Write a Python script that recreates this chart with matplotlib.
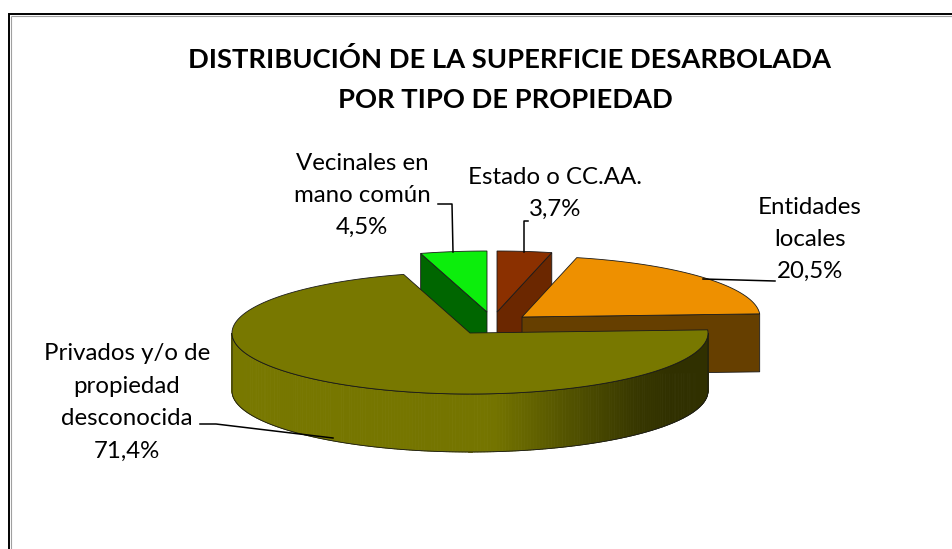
import numpy as np
import matplotlib
matplotlib.use("Agg")
import matplotlib.pyplot as plt
from matplotlib.patches import Polygon
from matplotlib.colors import to_rgb

# ---------------- data ----------------
title_lines = ["DISTRIBUCIÓN DE LA SUPERFICIE DESARBOLADA", "POR TIPO DE PROPIEDAD"]
categories = ["Estado o CC.AA.", "Entidades locales",
              "Privados y/o de propiedad desconocida", "Vecinales en mano común"]
values = [3.7, 20.5, 71.4, 4.5]
label_name_lines = [["Estado o CC.AA."],
                    ["Entidades", "locales"],
                    ["Privados y/o de", "propiedad", "desconocida"],
                    ["Vecinales en", "mano común"]]

# ---------------- style ----------------
top_colors = ["#8B3000", "#EE9000", "#787800", "#0CEE0C"]
radial_wall_colors = ["#6B2700", "#663F00", "#3A3A00", "#006600"]
explode = [(27, -21), (52, -16), (0, 0), (17, -21)]   # pixel offsets
label_pos = [(555, 177), (810, 207), (127, 354), (362, 163)]
line_pitch = 32.3
edge = "#1a1a1a"
FONT = "Lato"

W, H = 952, 549
fig = plt.figure(figsize=(W / 100, H / 100), dpi=100)
ax = fig.add_axes([0, 0, 1, 1])
ax.set_xlim(0, W)
ax.set_ylim(H, 0)
ax.axis("off")

# frame (left and top visible)
ax.plot([10.6, 10.6], [15.6, H], color="#a0a0a0", lw=0.8, solid_capstyle="butt")
ax.plot([10.6, W], [15.6, 15.6], color="#a0a0a0", lw=0.8, solid_capstyle="butt")
ax.plot([9, 9, W], [H, 14, 14], color="black", lw=1.4, solid_joinstyle="miter")

# ---------------- 3D pie ----------------
Rx, Ry, D = 238.0, 61.0, 58.0
base = (470.0, 333.0)
total = float(sum(values))
cum = np.concatenate([[0], np.cumsum(values)]) / total * 360.0
starts, ends = cum[:-1], cum[1:]


def P(c, ang, dz=0.0):
    a = np.radians(ang)
    return (c[0] + Rx * np.sin(a), c[1] - Ry * np.cos(a) + dz)


def brightness(s):
    return np.interp(s, [-1.0, 0.1, 0.4, 0.7, 0.85, 1.0],
                        [1.0, 0.97, 0.70, 0.46, 0.40, 0.40])


def draw_slice(i):
    a0, a1 = starts[i], ends[i]
    c = (base[0] + explode[i][0], base[1] + explode[i][1])
    # radial walls
    for ang, nrm in ((a0, a0 - 90), (a1, a1 + 90)):
        if np.cos(np.radians(nrm)) < -1e-6:
            pt = P(c, ang)
            poly = [c, pt, (pt[0], pt[1] + D), (c[0], c[1] + D)]
            ax.add_patch(Polygon(poly, closed=True, fc=radial_wall_colors[i],
                                 ec=edge, lw=0.6))
    # outer curved wall (front half only)
    lo, hi = max(a0, 90.0), min(a1, 270.0)
    if hi > lo:
        ts = np.linspace(lo, hi, 240)
        base_rgb = np.array(to_rgb(top_colors[i]))
        for t0, t1 in zip(ts[:-1], ts[1:]):
            tm = 0.5 * (t0 + t1)
            col = np.clip(base_rgb * brightness(np.sin(np.radians(tm))), 0, 1)
            p0, p1 = P(c, t0), P(c, t1)
            quad = [p0, p1, (p1[0], p1[1] + D), (p0[0], p0[1] + D)]
            ax.add_patch(Polygon(quad, closed=True, fc=col, ec=col, lw=0.6))
        topc = [P(c, t) for t in ts]
        botc = [P(c, t, D) for t in ts[::-1]]
        ax.add_patch(Polygon(topc + botc, closed=True, fill=False, ec=edge, lw=0.6))
    # top face
    ts = np.linspace(a0, a1, max(int((a1 - a0) * 2), 8))
    poly = [c] + [P(c, t) for t in ts]
    ax.add_patch(Polygon(poly, closed=True, fc=top_colors[i], ec=edge, lw=0.6))


for i in (3, 0, 1, 2):   # back to front
    draw_slice(i)

# ---------------- text ----------------
renderer = fig.canvas.get_renderer()


def fit_size(s, target_px, weight):
    t = ax.text(0, 0, s, fontsize=10, fontfamily=FONT, fontweight=weight)
    w = t.get_window_extent(renderer).width
    t.remove()
    return 10 * target_px / w


title_size = fit_size(title_lines[0], 642, "bold")
ax.text(509, 60, title_lines[0], fontsize=title_size, fontfamily=FONT,
        fontweight="bold", ha="center", va="center")
ax.text(505, 100, title_lines[1], fontsize=title_size, fontfamily=FONT,
        fontweight="bold", ha="center", va="center")

label_size = fit_size("Privados y/o de", 166, "normal")
for i in range(len(values)):
    lines = label_name_lines[i] + [f"{values[i]:.1f}".replace(".", ",") + "%"]
    x0, y0 = label_pos[i]
    for k, s in enumerate(lines):
        ax.text(x0, y0 + k * line_pitch, s, fontsize=label_size, fontfamily=FONT,
                ha="center", va="center", color="black")

# leader lines
leaders = [[(528, 221), (524, 221), (524, 252)],
           [(775, 281), (703, 279)],
           [(200, 424), (216, 424), (333, 438)],
           [(438, 204), (452, 204), (453, 252)]]
for pts in leaders:
    xs, ys = zip(*pts)
    ax.plot(xs, ys, color="black", lw=1.1)

fig.savefig("out.png", dpi=100)
